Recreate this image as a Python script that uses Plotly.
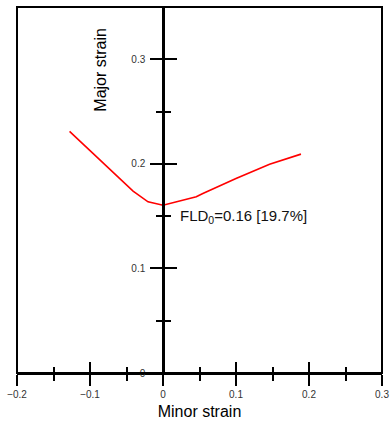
import plotly.graph_objects as go

# Data
minor_strain = [-0.128, -0.041, -0.0205, 0.0, 0.0456, 0.0546, 0.100, 0.146, 0.189]
major_strain = [0.231, 0.174, 0.1637, 0.1605, 0.1685, 0.1717, 0.186, 0.1997, 0.2093]
x_range = [-0.2, 0.3]
y_range = [0.0, 0.35]
fld_label = "FLD<sub>0</sub>=0.16 [19.7%]"
fld_pos = (0.020, 0.1495)

FONT = "Liberation Sans, Arial, sans-serif"
BLACK = "#000000"

fig = go.Figure()
fig.add_trace(go.Scatter(x=minor_strain, y=major_strain, mode="lines",
                         line=dict(color="#ff0000", width=1.6), hoverinfo="skip",
                         showlegend=False))
# invisible copy on the overlay axes so that their inward ticks are drawn
fig.add_trace(go.Scatter(x=minor_strain, y=major_strain, mode="markers",
                         marker=dict(size=1, color="rgba(0,0,0,0)"), hoverinfo="skip",
                         showlegend=False, xaxis="x2", yaxis="y2"))

tick_common = dict(tickcolor=BLACK, tickwidth=2, showgrid=False, zeroline=False)

fig.update_layout(
    width=392, height=421,
    margin=dict(l=17, r=10, t=7, b=48),
    paper_bgcolor="white", plot_bgcolor="white",
    font=dict(family=FONT, color=BLACK),
    xaxis=dict(range=x_range, tick0=0, dtick=0.1, ticks="outside", ticklen=11,
               showline=True, linewidth=2, linecolor=BLACK, automargin=False,
               tickfont=dict(size=10, color="#333333"),
               minor=dict(dtick=0.05, tick0=0, ticks="outside", ticklen=6,
                          tickwidth=2, tickcolor=BLACK, showgrid=False),
               title=dict(text="Minor strain", font=dict(size=16, color=BLACK), standoff=7),
               anchor="y", **tick_common),
    xaxis2=dict(range=x_range, overlaying="x", anchor="y2", side="bottom",
                tick0=0, dtick=0.1, ticks="inside", ticklen=11,
                showticklabels=False, showline=True, linewidth=2, linecolor=BLACK,
                minor=dict(dtick=0.05, tick0=0, ticks="inside", ticklen=6,
                           tickwidth=2, tickcolor=BLACK, showgrid=False),
                **tick_common),
    yaxis=dict(range=y_range, anchor="free", position=0.4, side="left",
               tick0=0, dtick=0.1, ticks="outside", ticklen=12,
               showline=True, linewidth=2.5, linecolor=BLACK,
               tickfont=dict(size=10, color="#333333"), ticklabelstandoff=3,
               minor=dict(dtick=0.05, tick0=0, ticks="outside", ticklen=6,
                          tickwidth=2, tickcolor=BLACK, showgrid=False),
               **tick_common),
    yaxis2=dict(range=y_range, overlaying="y", anchor="free", position=0.4, side="left",
                tick0=0, dtick=0.1, ticks="inside", ticklen=12,
                showticklabels=False, showline=True, linewidth=2.5, linecolor=BLACK,
                minor=dict(dtick=0.05, tick0=0, ticks="inside", ticklen=6,
                           tickwidth=2, tickcolor=BLACK, showgrid=False),
                **tick_common),
    shapes=[
        dict(type="rect", xref="paper", yref="paper", x0=0, x1=1, y0=0, y1=1,
             line=dict(color=BLACK, width=2), fillcolor="rgba(0,0,0,0)"),
    ],
    annotations=[
        dict(text="Major strain", x=-0.085, y=0.29, xref="x", yref="y",
             textangle=-90, showarrow=False, font=dict(size=16, color=BLACK),
             xanchor="center", yanchor="middle"),
        dict(text=fld_label, x=fld_pos[0], y=fld_pos[1], xref="x", yref="y",
             showarrow=False, font=dict(size=15, color="#111111"),
             xanchor="left", yanchor="middle"),
    ],
)

fig.write_html("out.html")
